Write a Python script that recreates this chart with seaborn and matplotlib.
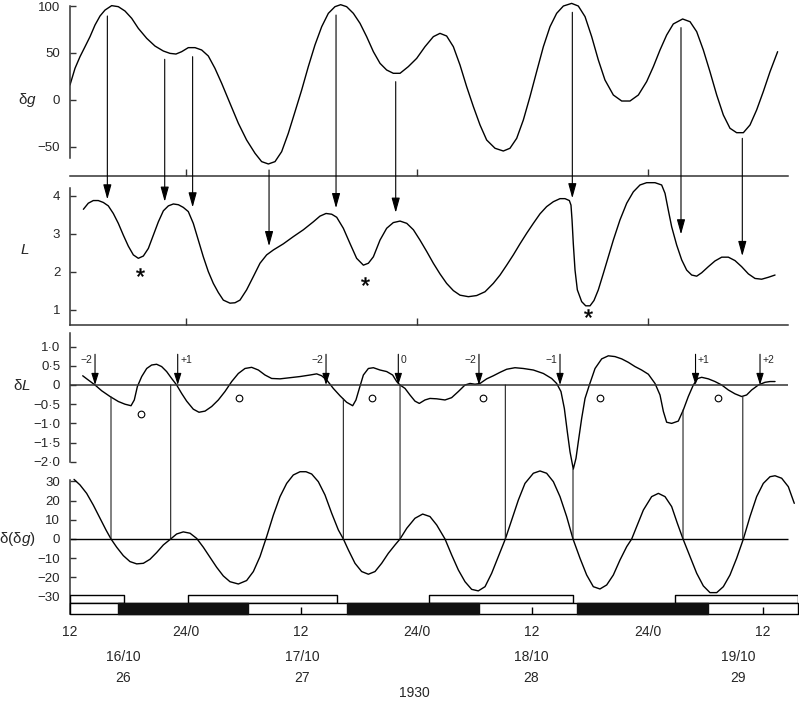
"""
Registo de 16-19/10/1930: dg, L, dL e d(dg) em quatro painéis empilhados
"""

import matplotlib
matplotlib.use('Agg')
import matplotlib.pyplot as plt
from matplotlib.patches import ConnectionPatch
import seaborn as sns

# tempo em horas a partir de 16/10 12h
t_dg = [0.0, 0.52, 1.04, 1.56, 2.08, 2.6, 3.12, 3.64, 4.33, 5.02, 5.71, 6.41, 7.1, 7.97,
        8.83, 9.7, 10.39, 11.01, 11.6, 12.29, 12.99, 13.68, 14.37, 15.06, 15.76, 16.62,
        17.49, 18.35, 19.22, 19.91, 20.61, 21.3, 21.99, 22.68, 23.38, 24.07, 24.76, 25.45,
        26.15, 26.84, 27.53, 28.12, 28.74, 29.44, 30.13, 30.82, 31.52, 32.21, 32.9, 33.59,
        34.29, 35.15, 36.02, 36.88, 37.75, 38.44, 39.13, 39.83, 40.52, 41.21, 41.91, 42.6,
        43.29, 44.16, 45.02, 45.71, 46.41, 47.1, 47.79, 48.48, 49.18, 49.87, 50.56, 51.26,
        52.12, 52.81, 53.51, 54.2, 54.89, 55.58, 56.45, 57.32, 58.18, 59.05, 59.91, 60.61,
        61.3, 61.99, 62.68, 63.65, 64.42, 65.11, 65.8, 66.49, 67.19, 67.88, 68.57, 69.26,
        69.96, 70.65, 71.34, 72.03, 72.73, 73.52]
dg = [16.0, 33.7, 46.1, 56.7, 67.4, 79.8, 89.4, 95.7, 100.4, 99.3, 94.7, 86.9, 76.2, 65.6,
      57.4, 52.1, 49.6, 48.9, 51.4, 55.7, 55.7, 53.2, 46.8, 33.7, 17.7, -3.5,
      -24.8, -42.6, -56.7, -65.6, -68.1, -65.6, -55.0, -35.5, -12.4, 10.6, 35.5, 58.5,
      78.0, 92.2, 99.3, 101.4, 99.3, 92.2, 81.6, 67.4, 51.4, 39.0, 31.9, 28.4,
      28.4, 35.5, 44.3, 56.7, 67.4, 70.9, 68.1, 56.7, 37.2, 14.2, -7.1, -26.6,
      -42.6, -51.4, -54.3, -51.4, -40.8, -21.3, 3.5, 30.1, 56.7, 78.0, 92.2, 100.0,
      102.8, 100.0, 88.7, 67.4, 42.6, 21.3, 5.3, -1.1, -1.1, 5.3, 19.5, 35.5,
      53.2, 69.1, 80.9, 86.2, 83.3, 72.7, 53.2, 30.1, 5.3, -16.0, -30.1, -34.8,
      -34.8, -26.6, -10.6, 8.9, 30.1, 51.4]

t_L = [1.39, 1.9, 2.42, 2.94, 3.46, 3.98, 4.5, 5.02, 5.54, 6.06, 6.58, 7.1, 7.62, 8.14,
       8.66, 9.18, 9.7, 10.22, 10.74, 11.26, 11.77, 12.29, 12.81, 13.33, 13.85, 14.37,
       14.89, 15.41, 15.93, 16.62, 17.14, 17.66, 18.35, 19.05, 19.74, 20.43, 21.13, 22.16,
       23.2, 24.24, 25.28, 25.97, 26.6, 27.19, 27.71, 28.4, 29.09, 29.78, 30.48, 31.0,
       31.52, 32.21, 32.9, 33.59, 34.29, 34.99, 35.68, 36.36, 37.06, 37.75, 38.44, 39.13,
       39.83, 40.52, 41.39, 42.25, 43.12, 43.98, 44.68, 45.37, 46.06, 46.75, 47.45, 48.14,
       48.83, 49.52, 50.22, 50.91, 51.43, 51.88, 52.05, 52.16, 52.29, 52.47, 52.71, 53.16,
       53.58, 54.03, 54.44, 54.89, 55.41, 55.93, 56.45, 57.14, 57.84, 58.53, 59.22, 59.91,
       60.78, 61.47, 61.82, 62.16, 62.51, 63.03, 63.55, 64.07, 64.59, 65.11, 65.63, 66.32,
       67.01, 67.71, 68.4, 69.09, 69.78, 70.48, 71.17, 71.86, 72.55, 73.25]
L = [3.65, 3.81, 3.88, 3.88, 3.83, 3.74, 3.54, 3.28, 2.97, 2.68, 2.45, 2.36, 2.42, 2.62,
     2.97, 3.32, 3.61, 3.74, 3.79, 3.77, 3.7, 3.59, 3.28, 2.84, 2.4, 2.01,
     1.7, 1.46, 1.26, 1.18, 1.19, 1.26, 1.53, 1.88, 2.23, 2.45, 2.58, 2.74,
     2.93, 3.11, 3.32, 3.47, 3.54, 3.52, 3.44, 3.15, 2.75, 2.36, 2.18, 2.23,
     2.4, 2.84, 3.15, 3.3, 3.34, 3.28, 3.11, 2.84, 2.54, 2.23, 1.95, 1.7,
     1.51, 1.39, 1.35, 1.38, 1.48, 1.7, 1.92, 2.18, 2.45, 2.74, 3.02, 3.28,
     3.53, 3.72, 3.85, 3.93, 3.93, 3.88, 3.76, 3.37, 2.75, 2.05, 1.53, 1.22,
     1.11, 1.11, 1.25, 1.53, 1.96, 2.4, 2.84, 3.37, 3.81, 4.11, 4.29, 4.35,
     4.35, 4.29, 4.07, 3.63, 3.19, 2.71, 2.32, 2.05, 1.92, 1.89, 1.98, 2.14,
     2.29, 2.39, 2.39, 2.3, 2.14, 1.95, 1.83, 1.81, 1.86, 1.92]

t_dL = [1.32, 1.9, 2.6, 3.29, 4.16, 5.02, 5.71, 6.34, 6.68, 7.0, 7.45, 7.97, 8.48, 9.0,
        9.52, 10.04, 10.56, 11.08, 11.6, 12.12, 12.81, 13.4, 14.03, 14.72, 15.41, 16.1,
        16.8, 17.49, 18.18, 18.87, 19.57, 20.26, 20.95, 21.82, 22.86, 23.9, 24.94, 25.63,
        26.15, 26.67, 27.36, 28.05, 28.74, 29.37, 29.71, 30.06, 30.48, 31.0, 31.52, 32.21,
        32.9, 33.52, 33.94, 34.29, 34.81, 35.32, 35.84, 36.29, 36.88, 37.4, 38.1, 38.96,
        39.65, 40.35, 41.04, 41.56, 42.08, 42.6, 43.29, 43.98, 44.68, 45.37, 46.23, 47.1,
        48.14, 49.18, 50.04, 50.56, 51.01, 51.36, 51.67, 51.95, 52.29, 52.57, 52.81, 53.16,
        53.51, 53.96, 54.55, 55.24, 55.93, 56.62, 57.32, 58.01, 58.7, 59.39, 60.09, 60.78,
        61.3, 61.65, 61.99, 62.51, 63.2, 63.72, 64.24, 64.76, 65.22, 65.63, 66.32, 67.01,
        67.71, 68.4, 69.09, 69.78, 70.3, 70.82, 71.52, 72.21, 72.73, 73.25]
dL = [0.24, 0.13, 0.0, -0.15, -0.3, -0.43, -0.5, -0.54, -0.39, -0.04, 0.22, 0.43, 0.52, 0.54,
      0.48, 0.35, 0.17, 0.0, -0.22, -0.42, -0.63, -0.71, -0.68, -0.56, -0.39, -0.17,
      0.09, 0.3, 0.43, 0.46, 0.39, 0.26, 0.17, 0.16, 0.19, 0.22, 0.26, 0.29,
      0.24, 0.13, -0.09, -0.28, -0.45, -0.54, -0.39, -0.09, 0.26, 0.43, 0.45, 0.39,
      0.35, 0.26, 0.09, 0.0, -0.09, -0.26, -0.42, -0.48, -0.39, -0.35, -0.36, -0.39,
      -0.33, -0.17, 0.0, 0.04, 0.02, 0.04, 0.16, 0.24, 0.33, 0.41, 0.45, 0.43,
      0.39, 0.3, 0.17, 0.04, -0.17, -0.61, -1.22, -1.74, -2.19, -1.91, -1.48, -0.87,
      -0.35, 0.0, 0.43, 0.68, 0.76, 0.74, 0.68, 0.59, 0.48, 0.39, 0.28, 0.04,
      -0.26, -0.69, -0.97, -1.0, -0.94, -0.65, -0.3, 0.0, 0.17, 0.2, 0.16, 0.09,
      0.0, -0.13, -0.23, -0.3, -0.26, -0.13, 0.0, 0.07, 0.09, 0.09]

t_ddg = [0.42, 1.04, 1.73, 2.42, 3.12, 3.74, 4.26, 4.85, 5.54, 6.23, 6.93, 7.62, 8.31, 9.0,
         9.7, 10.46, 11.08, 11.77, 12.47, 13.16, 13.85, 14.55, 15.24, 15.93, 16.62, 17.49,
         18.35, 19.05, 19.74, 20.43, 21.13, 21.82, 22.51, 23.2, 23.9, 24.52, 25.11, 25.8,
         26.49, 27.19, 27.88, 28.4, 28.92, 29.61, 30.3, 31.0, 31.69, 32.38, 33.07, 33.77,
         34.29, 34.99, 35.84, 36.64, 37.4, 38.1, 38.96, 39.65, 40.35, 41.04, 41.73, 42.42,
         43.12, 43.81, 44.5, 45.23, 45.89, 46.58, 47.27, 48.14, 48.83, 49.52, 50.22, 50.91,
         51.6, 52.26, 52.99, 53.68, 54.37, 55.06, 55.76, 56.45, 57.14, 57.84, 58.36, 58.87,
         59.57, 60.43, 61.13, 61.82, 62.51, 63.1, 63.69, 64.42, 65.11, 65.8, 66.49, 67.19,
         67.88, 68.57, 69.26, 69.96, 70.65, 71.34, 72.03, 72.73, 73.25, 73.94, 74.63, 75.25]
ddg = [31.1, 28.2, 23.8, 17.7, 10.8, 4.7, 0.0, -4.3, -8.7, -11.8, -13.0, -12.7, -10.6, -7.1,
       -3.1, 0.0, 2.6, 3.7, 3.0, 0.3, -4.3, -9.6, -14.8, -19.3, -22.3, -23.5,
       -21.7, -17.0, -9.2, 1.2, 12.5, 22.1, 29.0, 33.4, 35.1, 35.1, 33.9, 29.9,
       23.0, 13.4, 4.7, 0.0, -5.7, -12.7, -17.0, -18.4, -17.0, -12.7, -7.5, -3.1,
       0.0, 5.6, 10.8, 13.0, 11.7, 7.3, 0.0, -8.3, -16.2, -22.3, -26.3, -27.1,
       -24.9, -17.9, -9.2, 0.0, 9.9, 20.3, 29.0, 34.3, 35.5, 34.3, 29.9, 22.1,
       11.7, 0.0, -10.1, -18.8, -24.9, -26.1, -24.0, -18.8, -11.0, -4.0, 0.0, 6.4,
       15.1, 22.1, 23.8, 22.1, 16.9, 8.2, 0.0, -9.2, -17.9, -24.5, -28.0, -28.0,
       -24.9, -18.8, -10.1, 0.0, 11.7, 22.1, 29.0, 32.5, 33.0, 31.7, 27.3, 18.6]

# setas dg -> L
seta_t = [3.88, 9.84, 12.74, 20.68, 27.64, 33.84, 52.19, 63.48, 69.85]
seta_dg = [89.4, 43.3, 46.1, -74.5, 90.4, 19.5, 93.3, 77.0, -40.8]
seta_L = [3.91, 3.85, 3.70, 2.68, 3.68, 3.56, 3.94, 2.99, 2.42]

# asteriscos no painel L
estrela_t = [7.27, 30.65, 53.85]
estrela_L = [2.01, 1.75, 0.91]

# setas pequenas e rótulos no painel dL
marca_t = [2.60, 11.19, 26.60, 34.11, 42.49, 50.91, 64.99, 71.69]
marca_txt = ['\u22122', '+1', '\u22122', '0', '\u22122', '\u22121', '+1', '+2']
marca_lado = ['e', 'd', 'e', 'd', 'e', 'e', 'd', 'd']

# círculos no painel dL
circ_t = [7.34, 17.56, 31.34, 42.94, 55.06, 67.35]
circ_dL = [-0.76, -0.33, -0.33, -0.33, -0.33, -0.33]

# linhas verticais dL -> d(dg)
vert_t = [4.26, 10.46, 28.40, 34.29, 45.23, 52.26, 63.69, 69.90]
vert_dL = [-0.31, 0.0, -0.36, 0.0, 0.0, -2.19, -0.65, -0.30]

# barras dia/noite
barra_sup = [(0.0, 5.6), (12.26, 15.48), (37.3, 14.96), (62.86, 12.74)]
barra_preta = [(4.99, 13.5), (28.78, 13.71), (52.68, 13.61)]

xtick_pos = [0, 12, 24, 36, 48, 60, 72]
xtick_lab = ['12', '24/0', '12', '24/0', '12', '24/0', '12']
data_t = [5.5, 24.1, 47.9, 69.4]
data_lab = ['16/10', '17/10', '18/10', '19/10']
dia_lab = ['26', '27', '28', '29']

sns.set_theme(style='white')
plt.rcParams['font.family'] = ['Liberation Sans', 'DejaVu Sans']
plt.rcParams['mathtext.fontset'] = 'custom'
plt.rcParams['mathtext.rm'] = 'Liberation Sans'
plt.rcParams['mathtext.it'] = 'Liberation Sans:italic'

W, H = 799, 704
fig = plt.figure(figsize=(W / 100, H / 100), dpi=100)
XMAX = 75.6
XFIM = 74.6
esq = 70 / W
larg = XMAX * 9.625 / W
COR = '#333333'


def painel(topo, base):
    return fig.add_axes([esq, 1 - base / H, larg, (base - topo) / H])


ax1 = painel(0, 176)
ax2 = painel(176, 325)
ax3 = painel(325, 470)
ax4 = painel(470, 613.5)

for ax, dados in [(ax1, (t_dg, dg)), (ax2, (t_L, L)), (ax3, (t_dL, dL)), (ax4, (t_ddg, ddg))]:
    sns.lineplot(x=dados[0], y=dados[1], ax=ax, color='black', linewidth=1.0, sort=False)
    ax.set_xlim(0, XMAX)
    ax.set_facecolor('none')
    for s in ['top', 'right']:
        ax.spines[s].set_visible(False)
    for s in ax.spines.values():
        s.set_color(COR)
        s.set_linewidth(1.1)
    ax.tick_params(axis='y', left=True, direction='in', length=4.5, width=1.0,
                   color=COR, pad=7, labelsize=9.5)
    ax.set_xlabel('')
    ax.set_ylabel('')

# painel dg
ax1.set_ylim(-80.9, 106.4)
ax1.set_yticks([-50, 0, 50, 100])
ax1.spines['left'].set_bounds(-62, 100)
ax1.spines['bottom'].set_bounds(0, XFIM)
ax1.set_xticks([12, 36, 60])
ax1.tick_params(axis='x', bottom=True, direction='in', length=5, width=1.0,
                color=COR, labelbottom=False)

# painel L
ax2.set_ylim(0.605, 4.526)
ax2.set_yticks([1, 2, 3, 4])
ax2.spines['left'].set_bounds(0.605, 4.21)
ax2.spines['bottom'].set_bounds(0, XFIM)
ax2.set_xticks([12, 36, 60])
ax2.tick_params(axis='x', bottom=True, direction='in', length=5, width=1.0,
                color=COR, labelbottom=False)
ax2.plot(estrela_t, estrela_L, ls='none', marker='$*$', ms=6, color='black', mew=0.3)

# painel dL
ax3.set_ylim(-2.214, 1.5625)
ax3.set_yticks([1.0, 0.5, 0, -0.5, -1.0, -1.5, -2.0])
ax3.set_yticklabels(['1\u00b70', '0\u00b75', '0', '\u22120\u00b75', '\u22121\u00b70',
                     '\u22121\u00b75', '\u22122\u00b70'])
ax3.spines['left'].set_bounds(-2.0, 1.35)
ax3.spines['bottom'].set_visible(False)
ax3.set_xticks([])
ax3.hlines(0, 0, XFIM, color=COR, lw=1.1)
ax3.plot(circ_t, circ_dL, ls='none', marker='o', ms=4.8, mfc='white', mec='black', mew=0.8)
for t, txt, lado in zip(marca_t, marca_txt, marca_lado):
    ax3.annotate('', xy=(t, 0), xytext=(t, 0.8),
                 arrowprops=dict(arrowstyle='-|>,head_length=0.7,head_width=0.22',
                                 mutation_scale=10, lw=0.8, color='black',
                                 shrinkA=0, shrinkB=0))
    if lado == 'e':
        ax3.text(t - 0.25, 0.64, txt, ha='right', va='center', fontsize=7.5)
    else:
        ax3.text(t + 0.25, 0.64, txt, ha='left', va='center', fontsize=7.5)

# painel d(dg)
ax4.set_ylim(-38.9, 36.0)
ax4.set_yticks([30, 20, 10, 0, -10, -20, -30])
ax4.spines['left'].set_bounds(-38.9, 31)
ax4.spines['bottom'].set_visible(False)
ax4.hlines(0, 0, XFIM, color='black', lw=1.0)
ax4.broken_barh(barra_sup, (-33.6, 4.6), facecolor='white', edgecolor='black',
                lw=1.0, zorder=3)
ax4.broken_barh([(0, XMAX)], (-38.9, 5.3), facecolor='white', edgecolor='black',
                lw=1.0, zorder=3, clip_on=False)
ax4.broken_barh(barra_preta, (-38.9, 5.3), facecolor='#111111', edgecolor='#111111',
                lw=1.0, zorder=4, clip_on=False)
ax4.vlines([24, 48, 72], -38.9, -35.3, color='black', lw=1.0, zorder=5)
ax4.set_xticks(xtick_pos)
ax4.set_xticklabels(xtick_lab)
ax4.tick_params(axis='x', bottom=True, length=0, pad=8, labelsize=10)
trans = ax4.get_xaxis_transform()
for t, d, n in zip(data_t, data_lab, dia_lab):
    ax4.text(t, -0.303, d, transform=trans, ha='center', va='center', fontsize=10)
    ax4.text(t, -0.449, n, transform=trans, ha='center', va='center', fontsize=10)
ax4.text(35.8, -0.555, '1930', transform=trans, ha='center', va='center', fontsize=10)

# setas entre painéis
for t, a, b in zip(seta_t, seta_dg, seta_L):
    con = ConnectionPatch(xyA=(t, a), coordsA=ax1.transData, xyB=(t, b),
                          coordsB=ax2.transData,
                          arrowstyle='-|>,head_length=0.9,head_width=0.25',
                          mutation_scale=10, lw=0.8, color='black')
    fig.add_artist(con)

for t, a in zip(vert_t, vert_dL):
    con = ConnectionPatch(xyA=(t, a), coordsA=ax3.transData, xyB=(t, 0),
                          coordsB=ax4.transData, lw=0.8, color='#222222')
    fig.add_artist(con)

# rótulos dos eixos
for px, py, txt in [(27, 100, '\u03b4$g$'), (25, 250, '$L$'),
                    (22, 385, '\u03b4$L$'), (17, 539, '\u03b4(\u03b4$g$)')]:
    fig.text(px / W, 1 - py / H, txt, ha='center', va='center', fontsize=11)

fig.savefig('out.png', dpi=100, facecolor='white')
